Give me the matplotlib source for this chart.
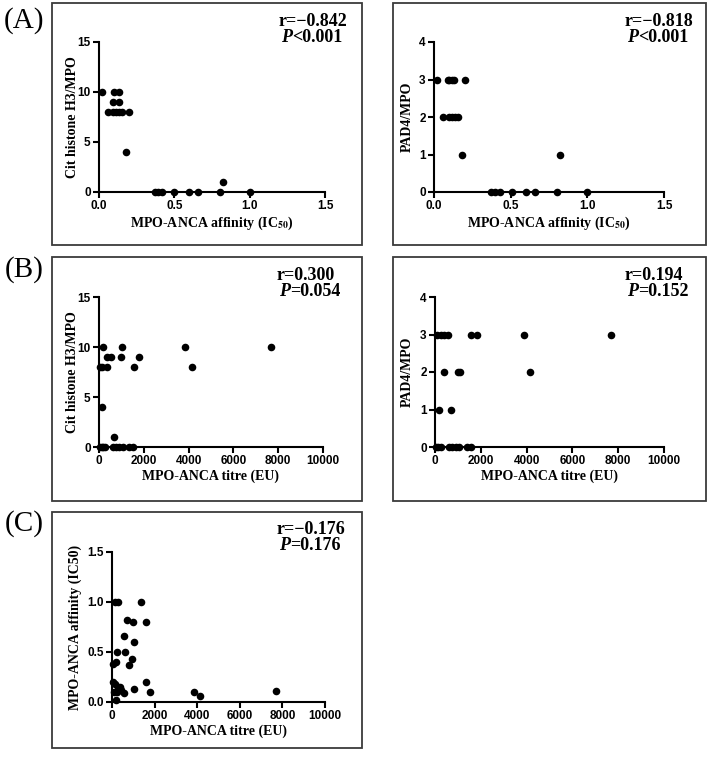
import matplotlib
matplotlib.use('Agg')
from matplotlib import pyplot as plt
from matplotlib import font_manager
from matplotlib.patches import Rectangle
from matplotlib.ticker import FormatStrFormatter

plt.rcParams['mathtext.fontset'] = 'stix'

# ---- data ----
# (A) affinity (IC50) vs Cit histone H3/MPO
affinityA1 = [0.02, 0.10, 0.13, 0.095, 0.13, 0.06, 0.09, 0.11, 0.13, 0.15, 0.20, 0.18,
              0.37, 0.39, 0.42, 0.50, 0.60, 0.66, 0.80, 1.00, 0.82]
citH3A = [10, 10, 10, 9, 9, 8, 8, 8, 8, 8, 8, 4,
          0, 0, 0, 0, 0, 0, 0, 0, 1]
# (A) affinity (IC50) vs PAD4/MPO
affinityA2 = [0.02, 0.09, 0.10, 0.12, 0.13, 0.20,
              0.06, 0.10, 0.12, 0.14, 0.155,
              0.18, 0.82,
              0.37, 0.40, 0.43, 0.51, 0.60, 0.66, 0.80, 1.00]
pad4A = [3, 3, 3, 3, 3, 3,
         2, 2, 2, 2, 2,
         1, 1,
         0, 0, 0, 0, 0, 0, 0, 0]
# (B) titre vs Cit histone H3/MPO
titreB1 = [200, 1040, 3860, 7700,
           340, 540, 1000, 1800,
           60, 150, 340, 1550, 4140,
           150, 670,
           40, 120, 200, 270, 610, 760, 910, 1060, 1350, 1530]
citH3B = [10, 10, 10, 10,
          9, 9, 9, 9,
          8, 8, 8, 8, 8,
          4, 1,
          0, 0, 0, 0, 0, 0, 0, 0, 0, 0]
# (B) titre vs PAD4/MPO
titreB2 = [100, 250, 400, 550, 1570, 1820, 3880, 7700,
           380, 1020, 1090, 4150,
           170, 700,
           50, 150, 280, 620, 760, 900, 1050, 1400, 1570]
pad4B = [3, 3, 3, 3, 3, 3, 3, 3,
         2, 2, 2, 2,
         1, 1,
         0, 0, 0, 0, 0, 0, 0, 0, 0]
# (C) titre vs affinity
titreC = [140, 300, 1360, 690, 1000, 1580, 580, 1020, 220, 610, 960, 190, 60, 800,
          60, 1580, 150, 300, 380, 250, 420, 560, 100, 1020, 1800, 3870, 4130, 200, 7700]
affinityC = [1.0, 1.0, 1.0, 0.82, 0.80, 0.80, 0.66, 0.60, 0.50, 0.50, 0.43, 0.40, 0.38, 0.37,
             0.20, 0.20, 0.18, 0.15, 0.15, 0.10, 0.12, 0.09, 0.10, 0.13, 0.10, 0.10, 0.06, 0.02, 0.11]

statsText = [('r=\u22120.842', '<0.001'), ('r=\u22120.818', '<0.001'),
             ('r=0.300', '=0.054'), ('r=0.194', '=0.152'),
             ('r=\u22120.176', '=0.176')]

affLabel = r'MPO-ANCA affinity (IC$_{\mathbf{50}}$)'
titreLabel = 'MPO-ANCA titre (EU)'

W, H = 709, 760
fig = plt.figure(figsize=(W / 100, H / 100), dpi=100)

serif = 'Liberation Serif'
# narrow sans for tick labels if there is one
installed = set(f.name for f in font_manager.fontManager.ttflist)
sans = 'Liberation Sans'
for cand in ['Liberation Sans Narrow', 'DejaVu Sans Condensed']:
    if cand in installed:
        sans = cand
        break


def px_rect(x0, y0, x1, y1):
    # pixel box (top-left origin) -> figure fraction [left, bottom, width, height]
    return [x0 / W, 1 - y1 / H, (x1 - x0) / W, (y1 - y0) / H]


# frames around each panel
frames = [(52, 3, 362, 245), (393, 3, 706, 245),
          (52, 257, 362, 501), (393, 257, 706, 501),
          (52, 512, 362, 748)]
for f in frames:
    l, b, w, h = px_rect(*f)
    fig.add_artist(Rectangle((l, b), w, h, transform=fig.transFigure,
                             fill=False, edgecolor='#3a3a3a', linewidth=1.3))


def make_panel(rect, x, y, xlim, ylim, xticks, yticks, xfmt, yfmt, xlabel, ylabel,
               stats, textpos, ylabx, xlaby):
    ax = fig.add_axes(px_rect(*rect))
    ax.scatter(x, y, s=30, color='black', zorder=5, clip_on=False, linewidths=0)
    ax.set_xlim(xlim)
    ax.set_ylim(ylim)
    ax.set_xticks(xticks)
    ax.set_yticks(yticks)
    if xfmt:
        ax.xaxis.set_major_formatter(FormatStrFormatter(xfmt))
    if yfmt:
        ax.yaxis.set_major_formatter(FormatStrFormatter(yfmt))
    for s in ['top', 'right']:
        ax.spines[s].set_visible(False)
    for s in ['left', 'bottom']:
        ax.spines[s].set_linewidth(1.5)
    ax.tick_params(direction='out', length=4, width=1.5, pad=2)
    for lab in ax.get_xticklabels() + ax.get_yticklabels():
        lab.set_fontfamily(sans)
        lab.set_fontweight('bold')
        lab.set_fontsize(8.5)
    ax.set_xlabel(xlabel, family=serif, weight='bold', fontsize=10)
    ax.set_ylabel(ylabel, family=serif, weight='bold', fontsize=10)
    # label centres given in figure pixels
    x0, y0, x1, y1 = rect
    ax.yaxis.set_label_coords((ylabx - x0) / (x1 - x0), 0.5)
    ax.xaxis.set_label_coords(0.5, (y1 - xlaby) / (y1 - y0))
    ax.yaxis.label.set_va('center')
    ax.xaxis.label.set_va('center')
    tx, ty = textpos
    fig.text(tx / W, 1 - ty / H, stats[0], family=serif, weight='bold',
             fontsize=13, va='center', ha='left')
    tP = fig.text((tx + 2) / W, 1 - (ty + 17) / H, 'P', family=serif, weight='bold',
                  style='italic', fontsize=13, va='center', ha='left')
    ax.annotate(stats[1], xy=(1, 0), xycoords=tP, va='bottom', ha='left',
                family=serif, weight='bold', fontsize=13, annotation_clip=False)
    return ax


make_panel((99, 42, 325, 192), affinityA1, citH3A, (0, 1.5), (0, 15),
           [0, 0.5, 1.0, 1.5], [0, 5, 10, 15], '%.1f', None,
           affLabel, 'Cit histone H3/MPO', statsText[0], (279, 21), 72, 223)
make_panel((434, 42, 664, 192), affinityA2, pad4A, (0, 1.5), (0, 4),
           [0, 0.5, 1.0, 1.5], [0, 1, 2, 3, 4], '%.1f', None,
           affLabel, 'PAD4/MPO', statsText[1], (625, 21), 407, 223)
make_panel((99, 297, 323, 447), titreB1, citH3B, (0, 10000), (0, 15),
           range(0, 10001, 2000), [0, 5, 10, 15], None, None,
           titreLabel, 'Cit histone H3/MPO', statsText[2], (277, 275), 72, 476)
make_panel((435, 297, 664, 447), titreB2, pad4B, (0, 10000), (0, 4),
           range(0, 10001, 2000), [0, 1, 2, 3, 4], None, None,
           titreLabel, 'PAD4/MPO', statsText[3], (625, 275), 407, 476)
make_panel((112, 552, 325, 702), titreC, affinityC, (0, 10000), (0, 1.5),
           range(0, 10001, 2000), [0, 0.5, 1.0, 1.5], None, '%.1f',
           titreLabel, 'MPO-ANCA affinity (IC50)', statsText[4], (277, 529), 75, 731)

# panel letters
for lab, yy in [('(A)', 21), ('(B)', 270), ('(C)', 524)]:
    fig.text(24 / W, 1 - yy / H, lab, family=serif, fontsize=21,
             ha='center', va='center')

fig.savefig('out.png', dpi=100)
